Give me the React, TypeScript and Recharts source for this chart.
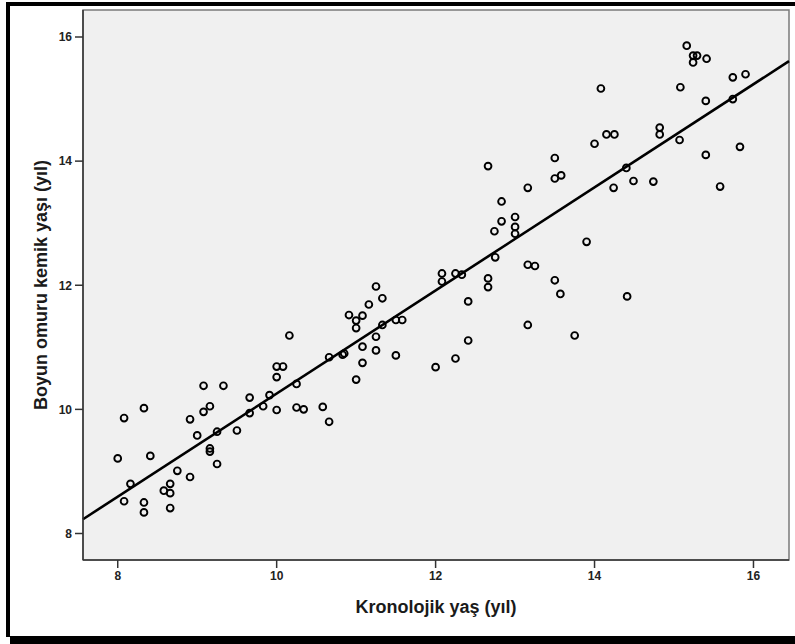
import React from 'react';
import { ScatterChart, Scatter, XAxis, YAxis, CartesianGrid, ReferenceLine, ReferenceArea } from 'recharts';

// Kronolojik yaş (yıl)
const kronolojikYas = [
  8.00, 8.08, 8.08, 8.16, 8.33, 8.33, 8.33, 8.41, 8.58, 8.66,
  8.66, 8.66, 8.75, 8.91, 8.91, 9.00, 9.08, 9.08, 9.16, 9.16,
  9.16, 9.25, 9.25, 9.33, 9.50, 9.66, 9.66, 9.83, 9.91, 10.00,
  10.08, 10.00, 10.00, 10.16, 10.25, 10.25, 10.34, 10.58, 10.66, 10.66,
  10.83, 10.85, 10.91, 11.00, 11.08, 11.00, 11.00, 11.08, 11.08, 11.16,
  11.25, 11.33, 11.25, 11.25, 11.33, 11.50, 11.58, 11.50, 12.00, 12.08,
  12.08, 12.25, 12.33, 12.25, 12.41, 12.41, 12.66, 12.66, 12.75, 12.66,
  12.74, 12.83, 12.83, 13.00, 13.00, 13.00, 13.16, 13.16, 13.25, 13.16,
  13.50, 13.50, 13.58, 13.50, 13.57, 13.75, 13.90, 14.00, 14.08, 14.15,
  14.25, 14.24, 14.40, 14.41, 14.49, 14.74, 14.82, 14.82, 15.07, 15.08,
  15.16, 15.24, 15.29, 15.24, 15.41, 15.40, 15.40, 15.58, 15.74, 15.74,
  15.83, 15.90,
];

// Boyun omuru kemik yaşı (yıl)
const kemikYasi = [
  9.21, 9.86, 8.52, 8.80, 10.02, 8.50, 8.34, 9.25, 8.69, 8.80,
  8.65, 8.41, 9.01, 9.84, 8.91, 9.58, 10.38, 9.96, 10.05, 9.37,
  9.32, 9.64, 9.12, 10.38, 9.66, 10.19, 9.94, 10.05, 10.23, 10.69,
  10.69, 10.52, 9.99, 11.19, 10.41, 10.03, 10.00, 10.04, 9.80, 10.84,
  10.88, 10.90, 11.52, 11.43, 11.51, 11.31, 10.48, 11.01, 10.75, 11.69,
  11.98, 11.79, 11.17, 10.95, 11.36, 11.44, 11.44, 10.87, 10.68, 12.19,
  12.06, 12.19, 12.17, 10.82, 11.74, 11.11, 12.11, 11.97, 12.45, 13.92,
  12.87, 13.35, 13.03, 13.10, 12.94, 12.83, 13.57, 12.33, 12.31, 11.36,
  14.05, 13.72, 13.77, 12.08, 11.86, 11.19, 12.70, 14.28, 15.17, 14.43,
  14.43, 13.57, 13.89, 11.82, 13.68, 13.67, 14.54, 14.43, 14.34, 15.19,
  15.86, 15.70, 15.70, 15.59, 15.65, 14.97, 14.10, 13.59, 15.35, 15.00,
  14.23, 15.40,
];

const xTicks = [8, 10, 12, 14, 16];
const yTicks = [8, 10, 12, 14, 16];
const xDomain = [7.563, 16.447];
const yDomain = [7.573, 16.435];
const fitLineX = [7.563, 16.447];
const fitLineY = [8.23, 15.61];

const points = kronolojikYas.map((x, i) => ({ x, y: kemikYasi[i] }));

const tickStyle = {
  fontFamily: '"Liberation Sans", Arial, sans-serif',
  fontWeight: 'bold' as const,
  fontSize: 12,
  fill: '#222',
};

const titleStyle = {
  fontFamily: '"Liberation Sans", Arial, sans-serif',
  fontWeight: 'bold' as const,
  fontSize: 18,
  fill: '#1a1a1a',
};

const Ring = (p: any) => (
  <circle cx={p.cx} cy={p.cy} r={3.4} fill="none" stroke="#000" strokeWidth={1.9} />
);

const XTitle = (props: any) => {
  const vb = props.viewBox || {};
  const cx = vb.x + vb.width / 2;
  return (
    <text x={cx} y={613} textAnchor="middle" style={titleStyle}>
      Kronolojik yaş (yıl)
    </text>
  );
};

const YTitle = (props: any) => {
  const vb = props.viewBox || {};
  const cx = 41;
  const cy = vb.y + vb.height / 2;
  return (
    <text
      x={cx}
      y={cy}
      transform={`rotate(-90 ${cx} ${cy})`}
      textAnchor="middle"
      dominantBaseline="central"
      style={titleStyle}
    >
      Boyun omuru kemik yaşı (yıl)
    </text>
  );
};

export default function App() {
  return (
    <div style={{ position: 'absolute', left: 0, top: 0, width: 795, height: 644, background: '#fff' }}>
      <div style={{ position: 'absolute', left: 6, top: 2, width: 789, height: 4, background: '#000' }} />
      <div style={{ position: 'absolute', left: 6, top: 2, width: 4, height: 635, background: '#000' }} />
      <div style={{ position: 'absolute', left: 10, top: 636, width: 785, height: 8, background: '#000' }} />
      <div style={{ position: 'absolute', left: 0, top: 0 }}>
        <ScatterChart width={795} height={644} margin={{ top: 10, right: 6, bottom: 0, left: 0 }}>
          <CartesianGrid horizontal={false} vertical={false} fill="#F0F0F0" />
          <ReferenceArea
            x1={xDomain[0]}
            x2={xDomain[1]}
            y1={yDomain[0]}
            y2={yDomain[1]}
            fill="none"
            stroke="#7a7a7a"
            strokeWidth={1.5}
            ifOverflow="visible"
          />
          <XAxis
            type="number"
            dataKey="x"
            domain={xDomain}
            ticks={xTicks}
            allowDataOverflow
            height={84}
            tickSize={8}
            tickMargin={3}
            tick={tickStyle}
            axisLine={{ stroke: '#333', strokeWidth: 1.5 }}
            tickLine={{ stroke: '#333', strokeWidth: 1.5 }}
            label={{ content: <XTitle /> }}
          />
          <YAxis
            type="number"
            dataKey="y"
            domain={yDomain}
            ticks={yTicks}
            allowDataOverflow
            width={83}
            tickSize={8}
            tickMargin={3}
            tick={tickStyle}
            axisLine={{ stroke: '#333', strokeWidth: 1.5 }}
            tickLine={{ stroke: '#333', strokeWidth: 1.5 }}
            label={{ content: <YTitle /> }}
          />
          <ReferenceLine
            segment={[
              { x: fitLineX[0], y: fitLineY[0] },
              { x: fitLineX[1], y: fitLineY[1] },
            ]}
            stroke="#000"
            strokeWidth={2.6}
            ifOverflow="visible"
          />
          <Scatter data={points} shape={Ring} isAnimationActive={false} />
        </ScatterChart>
      </div>
    </div>
  );
}
